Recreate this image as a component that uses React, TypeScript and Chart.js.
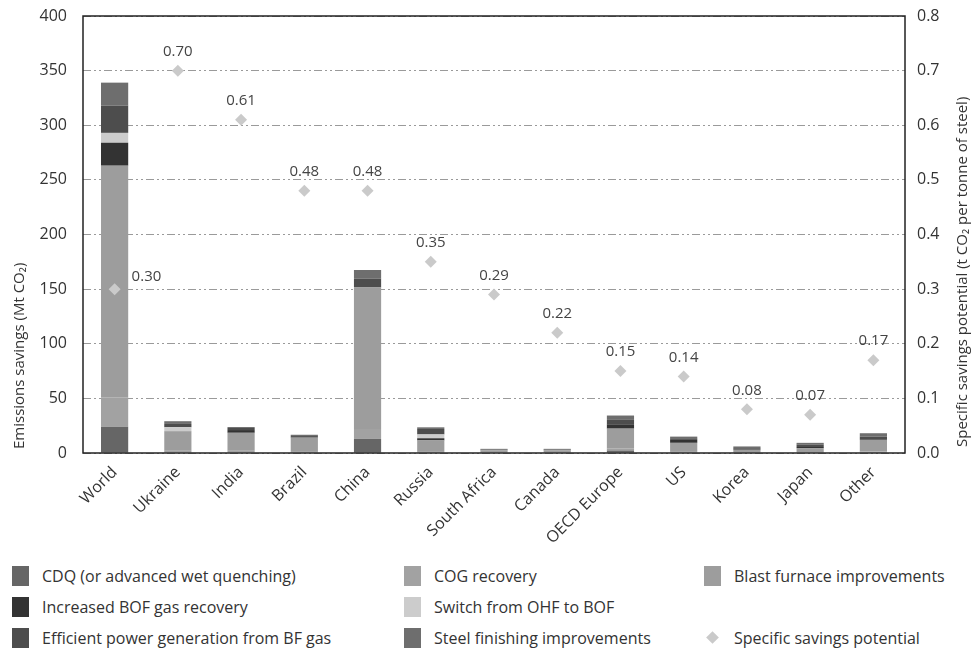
import { useEffect, useRef } from 'react';
import Chart from 'chart.js/auto';

const regions = ['World', 'Ukraine', 'India', 'Brazil', 'China', 'Russia', 'South Africa', 'Canada', 'OECD Europe', 'US', 'Korea', 'Japan', 'Other'];

// emissions savings, Mt CO2, stacked bottom to top
const cdq = [24, 0, 0, 0, 13, 0, 0, 0, 2.3, 0, 0, 0, 0];
const cogRecovery = [27, 2, 2, 1, 9, 1, 0.5, 0.5, 2, 1, 0.5, 0.5, 1.5];
const blastFurnace = [212, 18, 16.5, 13, 129.5, 10.5, 2, 2, 18, 8.3, 2.4, 4, 10.5];
const bofGas = [21, 0, 2.5, 0, 0, 2, 0, 0, 4, 2.7, 0, 1, 0];
const ohfToBof = [9, 3.6, 0, 0, 0, 3.5, 0, 0, 0, 0, 0, 0, 0];
const bfGasPower = [25, 3, 2.6, 1.5, 8, 5, 0.6, 0.6, 4, 1.5, 1.5, 2, 3];
const steelFinishing = [21, 2.5, 0, 1.2, 8, 1.5, 0.7, 0.7, 4, 1.5, 1.6, 1.8, 3.1];

// t CO2 per tonne of steel
const specificSavings = [0.30, 0.70, 0.61, 0.48, 0.48, 0.35, 0.29, 0.22, 0.15, 0.14, 0.08, 0.07, 0.17];

const leftTicks = [0, 50, 100, 150, 200, 250, 300, 350, 400];
const rightTicks = [0, 0.1, 0.2, 0.3, 0.4, 0.5, 0.6, 0.7, 0.8];

const barSeries = [
    { label: 'CDQ (or advanced wet quenching)', data: cdq, color: '#666666' },
    { label: 'COG recovery', data: cogRecovery, color: '#a2a2a2' },
    { label: 'Blast furnace improvements', data: blastFurnace, color: '#9d9d9d' },
    { label: 'Increased BOF gas recovery', data: bofGas, color: '#333333' },
    { label: 'Switch from OHF to BOF', data: ohfToBof, color: '#cccccc' },
    { label: 'Efficient power generation from BF gas', data: bfGasPower, color: '#4d4d4d' },
    { label: 'Steel finishing improvements', data: steelFinishing, color: '#6e6e6e' },
];

const legendRows = [
    ['CDQ (or advanced wet quenching)', 'COG recovery', 'Blast furnace improvements'],
    ['Increased BOF gas recovery', 'Switch from OHF to BOF', ''],
    ['Efficient power generation from BF gas', 'Steel finishing improvements', 'Specific savings potential'],
];

const FONT = '"Open Sans", sans-serif';
const TEXT = '#333333';

const overlay = {
    id: 'overlay',
    afterDatasetsDraw(chart: any) {
        const ctx = chart.ctx;
        const meta = chart.getDatasetMeta(barSeries.length);
        ctx.save();
        ctx.font = `15px ${FONT}`;
        ctx.fillStyle = '#444';
        ctx.textBaseline = 'middle';
        meta.data.forEach((pt: any, i: number) => {
            const text = specificSavings[i].toFixed(2);
            if (i === 0) {
                ctx.textAlign = 'left';
                ctx.fillText(text, pt.x + 17, pt.y - 12);
            } else {
                ctx.textAlign = 'center';
                ctx.fillText(text, pt.x, pt.y - 19);
            }
        });
        ctx.restore();
    },
    afterDraw(chart: any) {
        const { ctx, chartArea } = chart;
        ctx.save();
        ctx.strokeStyle = '#222';
        ctx.lineWidth = 1.5;
        ctx.strokeRect(chartArea.left, chartArea.top, chartArea.right - chartArea.left, chartArea.bottom - chartArea.top);

        ctx.font = `15px ${FONT}`;
        ctx.fillStyle = TEXT;
        ctx.textAlign = 'left';
        ctx.textBaseline = 'middle';
        ctx.translate(20, chartArea.bottom - 4);
        ctx.rotate(-Math.PI / 2);
        ctx.fillText('Emissions savings (Mt CO\u2082)', 0, 0);
        ctx.restore();

        ctx.save();
        ctx.font = `15px ${FONT}`;
        ctx.fillStyle = TEXT;
        ctx.textAlign = 'left';
        ctx.textBaseline = 'middle';
        ctx.translate(963, chartArea.bottom - 6);
        ctx.rotate(-Math.PI / 2);
        ctx.fillText('Specific savings potential (t CO\u2082 per tonne of steel)', 0, 0);
        ctx.restore();
    },
};

const SavingsChart = () => {
    const chartRef = useRef<HTMLCanvasElement>(null);

    useEffect(() => {
        const canvas = chartRef.current;
        if (!canvas) return;
        const ctx = canvas.getContext('2d');
        if (!ctx) return;

        const chart = new Chart(ctx, {
            type: 'bar',
            data: {
                labels: regions,
                datasets: [
                    ...barSeries.map((s) => ({
                        type: 'bar' as const,
                        label: s.label,
                        data: s.data,
                        backgroundColor: s.color,
                        borderWidth: 0,
                        stack: 'savings',
                        yAxisID: 'y',
                        order: 1,
                        barPercentage: 0.43,
                        categoryPercentage: 1,
                    })),
                    {
                        type: 'line' as const,
                        label: 'Specific savings potential',
                        data: specificSavings,
                        yAxisID: 'y1',
                        showLine: false,
                        pointStyle: 'rectRot',
                        pointRadius: 6,
                        pointBackgroundColor: '#cacaca',
                        pointBorderWidth: 0,
                        order: 0,
                    } as any,
                ],
            },
            options: {
                responsive: false,
                animation: false,
                layout: { padding: { top: 16, left: 0, right: 0, bottom: 0 } },
                plugins: {
                    legend: { display: false },
                    tooltip: { enabled: false },
                },
                scales: {
                    x: {
                        stacked: true,
                        grid: { display: false },
                        border: { display: false },
                        ticks: {
                            color: TEXT,
                            font: { family: FONT, size: 16 },
                            maxRotation: 45,
                            minRotation: 45,
                            padding: 2,
                        },
                        afterFit: (s: any) => { s.height = 97; },
                    },
                    y: {
                        stacked: true,
                        position: 'left',
                        min: 0,
                        max: 400,
                        afterBuildTicks: (s: any) => { s.ticks = leftTicks.map((v) => ({ value: v })); },
                        grid: { color: '#9a9a9a', lineWidth: 1, drawTicks: false },
                        border: { display: false, dash: [8, 3, 2, 3, 2, 3] },
                        ticks: {
                            color: TEXT,
                            font: { family: FONT, size: 16 },
                            padding: 16,
                        },
                        afterFit: (s: any) => { s.width = 83; s.paddingTop = 8; s.paddingBottom = 8; },
                    },
                    y1: {
                        position: 'right',
                        min: 0,
                        max: 0.8,
                        afterBuildTicks: (s: any) => { s.ticks = rightTicks.map((v) => ({ value: v })); },
                        grid: { display: false, drawTicks: false },
                        border: { display: false },
                        ticks: {
                            color: TEXT,
                            font: { family: FONT, size: 16 },
                            padding: 12,
                            callback: (v: any) => Number(v).toFixed(1),
                        },
                        afterFit: (s: any) => { s.width = 68; s.paddingTop = 8; s.paddingBottom = 8; },
                    },
                },
            },
            plugins: [overlay],
        });

        return () => {
            chart.destroy();
        };
    }, []);

    return <canvas ref={chartRef} width={973} height={550} style={{ width: 973, height: 550, display: 'block' }}></canvas>;
};

const Swatch = ({ label }: { label: string }) => {
    if (!label) return <div />;
    const series = barSeries.find((s) => s.label === label);
    return (
        <div style={{ display: 'flex', alignItems: 'center', height: 31 }}>
            {series ? (
                <span style={{ display: 'inline-block', width: 17, height: 20, background: series.color, marginRight: 13 }} />
            ) : (
                <span style={{ display: 'inline-block', width: 17, height: 20, marginRight: 13, position: 'relative' }}>
                    <span style={{ position: 'absolute', left: 4, top: 5, width: 9, height: 9, background: '#cacaca', transform: 'rotate(45deg)' }} />
                </span>
            )}
            <span style={{ color: TEXT, fontSize: 16, whiteSpace: 'nowrap' }}>{label}</span>
        </div>
    );
};

export default function App() {
    return (
        <div style={{ position: 'fixed', left: 0, top: 0, width: 973, height: 657, background: '#fff', fontFamily: FONT }}>
            <SavingsChart />
            <div style={{ position: 'absolute', left: 12, top: 560, display: 'grid', gridTemplateColumns: '392px 300px 260px' }}>
                {legendRows.flat().map((label, i) => (
                    <Swatch key={i} label={label} />
                ))}
            </div>
        </div>
    );
}
